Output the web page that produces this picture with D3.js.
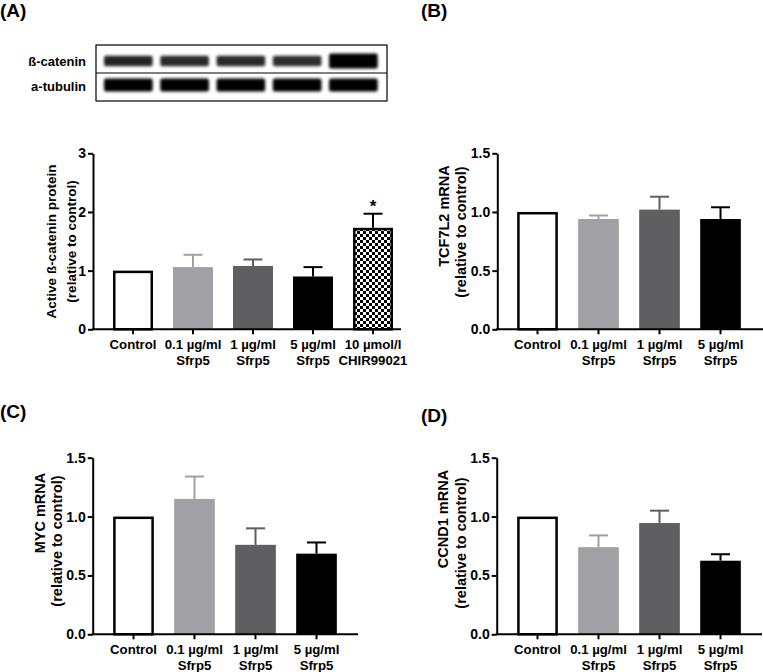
<!DOCTYPE html>
<html>
<head>
<meta charset="utf-8">
<script src="https://cdn.jsdelivr.net/npm/d3@7/dist/d3.min.js"></script>
<style>
  html, body { margin: 0; padding: 0; background: #fff; }
  svg { display: block; font-family: "Liberation Sans", Arial, sans-serif; }
</style>
</head>
<body>
<svg id="fig" width="763" height="672"></svg>
<script>
// ---------------- DATA ----------------
const categoriesA = ["Control", "0.1 µg/ml|Sfrp5", "1 µg/ml|Sfrp5", "5 µg/ml|Sfrp5", "10 µmol/l|CHIR99021"];
const categoriesBCD = ["Control", "0.1 µg/ml|Sfrp5", "1 µg/ml|Sfrp5", "5 µg/ml|Sfrp5"];

const betaCateninMean = [1.00, 1.06, 1.08, 0.90, 1.73];
const betaCateninErr  = [0.00, 0.21, 0.11, 0.16, 0.24];

const tcf7l2Mean = [1.00, 0.94, 1.02, 0.94];
const tcf7l2Err  = [0.00, 0.03, 0.11, 0.10];

const mycMean = [1.00, 1.15, 0.76, 0.685];
const mycErr  = [0.00, 0.19, 0.14, 0.095];

const ccnd1Mean = [1.00, 0.74, 0.945, 0.625];
const ccnd1Err  = [0.00, 0.10, 0.105, 0.055];

const significanceA = ["", "", "", "", "*"];

const ticksA = [0, 1, 2, 3];
const ticksBCD = [0, 0.5, 1.0, 1.5];

// western blot band intensities (relative darkness)
const blotLanes = ["1", "2", "3", "4", "5"];
const betaCateninBand = [0.86, 0.84, 0.84, 0.82, 1.0];
const tubulinBand = [1.0, 1.0, 1.0, 1.0, 1.0];

// ---------------- STYLE ----------------
const fills = ["#ffffff", "#a1a1a5", "#5f5f61", "#000000", "url(#checker)"];
const errColors = ["#000000", "#a1a1a5", "#5f5f61", "#000000", "#000000"];

const svg = d3.select("#fig");
const defs = svg.append("defs");
const pat = defs.append("pattern").attr("id", "checker")
  .attr("patternUnits", "userSpaceOnUse").attr("width", 6).attr("height", 6);
pat.append("rect").attr("width", 6).attr("height", 6).attr("fill", "#fff");
pat.append("rect").attr("x", 0).attr("y", 0).attr("width", 3).attr("height", 3).attr("fill", "#000");
pat.append("rect").attr("x", 3).attr("y", 3).attr("width", 3).attr("height", 3).attr("fill", "#000");
defs.append("filter").attr("id", "blur").attr("x", "-20%").attr("y", "-50%").attr("width", "140%").attr("height", "200%")
  .append("feGaussianBlur").attr("stdDeviation", 1.4);

// Panel labels
const panelLabels = [
  {t: "(A)", x: 0, y: 17}, {t: "(B)", x: 421, y: 17},
  {t: "(C)", x: 0, y: 418}, {t: "(D)", x: 421, y: 422}
];
svg.selectAll("text.plabel").data(panelLabels).enter().append("text")
  .attr("class", "plabel").attr("x", d => d.x).attr("y", d => d.y)
  .attr("font-size", 19).attr("font-weight", "bold").text(d => d.t);

// ---------------- BLOT ----------------
(function drawBlot() {
  const g = svg.append("g");
  const bx0 = 96, bx1 = 387, by0 = 45, by1 = 101, bmid = 73;
  const lane = d3.scaleBand().domain(blotLanes).range([100.2, 381.5]).paddingInner(0.1).paddingOuter(0.05);
  g.append("rect").attr("x", bx0).attr("y", by0).attr("width", bx1 - bx0).attr("height", by1 - by0)
    .attr("fill", "#fff").attr("stroke", "#000").attr("stroke-width", 1.2);
  g.append("line").attr("x1", bx0).attr("x2", bx1).attr("y1", bmid).attr("y2", bmid)
    .attr("stroke", "#000").attr("stroke-width", 1.2);
  const bandG = g.append("g").attr("filter", "url(#blur)");
  bandG.selectAll("rect.bc").data(betaCateninBand).enter().append("rect")
    .attr("x", (d, i) => lane(blotLanes[i]) + 1)
    .attr("width", lane.bandwidth() - 2)
    .attr("y", d => 61 - (d > 0.95 ? 7.5 : 5.2))
    .attr("height", d => (d > 0.95 ? 15 : 10.4))
    .attr("rx", 2)
    .attr("fill", "#000")
    .attr("fill-opacity", d => d);
  bandG.selectAll("rect.tb").data(tubulinBand).enter().append("rect")
    .attr("x", (d, i) => lane(blotLanes[i]) + 1)
    .attr("width", lane.bandwidth() - 2)
    .attr("y", 78.5).attr("height", 13).attr("rx", 2)
    .attr("fill", "#000").attr("fill-opacity", d => d);
  g.append("text").attr("x", 86).attr("y", 65.5).attr("text-anchor", "end")
    .attr("font-size", 13).attr("font-weight", "bold").text("ß-catenin");
  g.append("text").attr("x", 86).attr("y", 91).attr("text-anchor", "end")
    .attr("font-size", 13).attr("font-weight", "bold").text("a-tubulin");
})();

// ---------------- BAR PANELS ----------------
function drawPanel(cfg) {
  const g = svg.append("g");
  const x = d3.scaleBand().domain(cfg.cats).range(cfg.xr).paddingInner(1/3).paddingOuter(1/6);
  const y = d3.scaleLinear().domain([0, cfg.ymax]).range(cfg.yr);

  const data = cfg.cats.map((c, i) => ({c, i, v: cfg.mean[i], e: cfg.err[i], s: cfg.sig ? cfg.sig[i] : ""}));
  const outlined = d => (d.i === 0 || d.i === 4);
  // error bars (behind bars)
  const eg = g.append("g");
  data.filter(d => d.e > 0).forEach(d => {
    const cx = x(d.c) + x.bandwidth() / 2;
    eg.append("line").attr("x1", cx).attr("x2", cx).attr("y1", y(d.v)).attr("y2", y(d.v + d.e))
      .attr("stroke", errColors[d.i]).attr("stroke-width", 2);
    eg.append("line").attr("x1", cx - 9.5).attr("x2", cx + 9.5).attr("y1", y(d.v + d.e)).attr("y2", y(d.v + d.e))
      .attr("stroke", errColors[d.i]).attr("stroke-width", 2);
  });
  g.selectAll("rect.bar").data(data).enter().append("rect")
    .attr("x", d => x(d.c) + (outlined(d) ? 1.25 : 0))
    .attr("width", d => x.bandwidth() - (outlined(d) ? 2.5 : 0))
    .attr("y", d => y(d.v) + (outlined(d) ? 1.25 : 0))
    .attr("height", d => y(0) - y(d.v) - (outlined(d) ? 1.25 : 0))
    .attr("fill", d => fills[d.i])
    .attr("stroke", d => outlined(d) ? "#000" : "none")
    .attr("stroke-width", 2.5);
  data.filter(d => d.s).forEach(d => {
    g.append("text").attr("x", x(d.c) + x.bandwidth() / 2).attr("y", y(d.v + d.e) - 2)
      .attr("text-anchor", "middle").attr("font-size", 17).attr("font-weight", "bold").text(d.s);
  });

  // y axis
  const ya = g.append("g").attr("transform", `translate(${cfg.ax},0)`)
    .call(d3.axisLeft(y).tickValues(cfg.ticks).tickFormat(cfg.fmt).tickSize(5).tickSizeOuter(0).tickPadding(2));
  ya.select(".domain").attr("stroke-width", 2);
  ya.selectAll(".tick line").attr("stroke-width", 2);
  ya.selectAll(".tick text").attr("font-size", 14).attr("font-weight", "bold").attr("fill", "#000")
    .attr("font-family", "Liberation Sans, Arial, sans-serif");

  // x axis
  const xa = g.append("g").attr("transform", `translate(0,${cfg.yr[0]})`)
    .call(d3.axisBottom(x).tickSize(5).tickSizeOuter(0).tickFormat(""));
  xa.select(".domain").remove();
  xa.selectAll(".tick line").attr("stroke-width", 2);
  g.append("line").attr("x1", cfg.ax - 1).attr("x2", cfg.xend).attr("y1", cfg.yr[0]).attr("y2", cfg.yr[0])
    .attr("stroke", "#000").attr("stroke-width", 2);

  // category labels
  data.forEach(d => {
    const parts = d.c.split("|");
    const cx = x(d.c) + x.bandwidth() / 2;
    parts.forEach((p, k) => {
      g.append("text").attr("x", cx).attr("y", cfg.yr[0] + 20 + k * 15.5)
        .attr("text-anchor", "middle").attr("font-size", 13.2).attr("font-weight", "bold").text(p);
    });
  });

  // y title
  cfg.title.forEach(t => {
    g.append("text").attr("transform", `translate(${t.x},${t.y}) rotate(-90)`)
      .attr("text-anchor", "middle").attr("dy", "0.35em")
      .attr("font-size", t.fs).attr("font-weight", "bold").text(t.s);
  });
}

const f1 = d3.format(".1f");

drawPanel({
  cats: categoriesA, mean: betaCateninMean, err: betaCateninErr, sig: significanceA,
  ymax: 3, ticks: ticksA, fmt: d3.format("d"),
  ax: 93, xr: [103, 403], yr: [329.3, 153.3], xend: 401,
  title: [{s: "Active ß-catenin protein", x: 51, y: 241.5, fs: 13.5},
          {s: "(relative to control)", x: 71.5, y: 241.5, fs: 13.5}]
});
drawPanel({
  cats: categoriesBCD, mean: tcf7l2Mean, err: tcf7l2Err,
  ymax: 1.5, ticks: ticksBCD, fmt: f1,
  ax: 497.3, xr: [507, 751], yr: [329.3, 153.3], xend: 763,
  title: [{s: "TCF7L2 mRNA", x: 444, y: 216, fs: 14.5},
          {s: "(relative to control)", x: 460.5, y: 232, fs: 14.5}]
});
drawPanel({
  cats: categoriesBCD, mean: mycMean, err: mycErr,
  ymax: 1.5, ticks: ticksBCD, fmt: f1,
  ax: 92.7, xr: [103, 347], yr: [634.3, 457.7], xend: 358,
  title: [{s: "MYC mRNA", x: 40, y: 513, fs: 14.5},
          {s: "(relative to control)", x: 56.7, y: 541, fs: 14.5}]
});
drawPanel({
  cats: categoriesBCD, mean: ccnd1Mean, err: ccnd1Err,
  ymax: 1.5, ticks: ticksBCD, fmt: f1,
  ax: 496.7, xr: [507, 751], yr: [634.3, 457.7], xend: 762,
  title: [{s: "CCND1 mRNA", x: 443.3, y: 519, fs: 14.5},
          {s: "(relative to control)", x: 461, y: 543, fs: 14.5}]
});
</script>
</body>
</html>
